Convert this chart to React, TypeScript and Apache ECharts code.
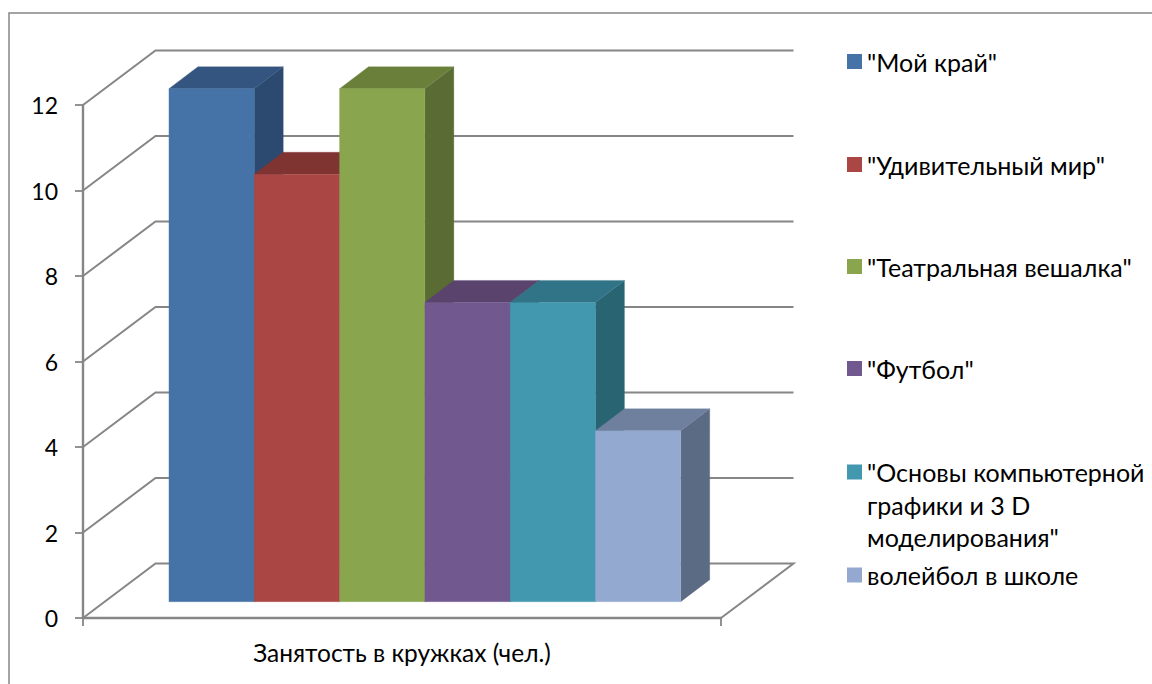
import React, { useEffect, useRef } from "react";
import * as echarts from "echarts";

const categories = ["Занятость в кружках (чел.)"];
const seriesNames = [
  '"Мой край"',
  '"Удивительный мир"',
  '"Театральная вешалка"',
  '"Футбол"',
  '"Основы компьютерной\nграфики и 3 D\nмоделирования"',
  "волейбол в школе",
];
const seriesValues = [12, 10, 12, 7, 7, 4];
const gridTicks = [0, 2, 4, 6, 8, 10, 12];
const frontColors = ["#4573A7", "#AA4644", "#89A54E", "#71588F", "#4198AF", "#94A9D0"];
const topColors = ["#34557F", "#803432", "#6A803A", "#5A446E", "#327487", "#6F7F9E"];
const sideColors = ["#2C4A6F", "#6E2C2B", "#5A6B34", "#4A3A5C", "#286472", "#5C6B84"];
const legendCentres = [61.5, 164.5, 266.5, 368.5, 472, 575];

const FONT = "Lato, 'Open Sans', sans-serif";
const WALL = "#868686";
const WALL_DX = 72.5;
const WALL_DY = 54.5;
const BAR_FRONT_DX = 21.5;
const BAR_FRONT_DY = 16.3;
const BAR_DX = 29;
const BAR_DY = 22;
const BAR_INSET = 0.101;
const BAR_WIDTH = 0.1337;

export default function App() {
  const ref = useRef<HTMLDivElement>(null);
  useEffect(() => {
    const chart = echarts.init(ref.current!, undefined, { renderer: "svg" });

    const wallSeries: any = {
      type: "custom",
      silent: true,
      clip: false,
      z: 1,
      encode: { y: 0 },
      data: gridTicks.map((t) => [t]),
      renderItem: (params: any, api: any) => {
        const cs = params.coordSys;
        const y = api.coord([0, api.value(0)])[1];
        const points: number[][] = [
          [cs.x, y],
          [cs.x + WALL_DX, y - WALL_DY],
          [cs.x + cs.width + WALL_DX, y - WALL_DY],
        ];
        if (api.value(0) === 0) points.push([cs.x + cs.width, y]);
        return {
          type: "polyline",
          shape: { points },
          style: { stroke: WALL, lineWidth: 2, fill: "none" },
        };
      },
    };

    const barSeries: any[] = seriesNames.map((name, i) => ({
      type: "custom",
      name,
      clip: false,
      z: 2 + i,
      itemStyle: { color: frontColors[i] },
      encode: { x: 0, y: 1 },
      data: [[0, seriesValues[i]]],
      renderItem: (_params: any, api: any) => {
        const band = api.size([1, 0])[0];
        const centre = api.coord([api.value(0), 0])[0];
        const base = api.coord([0, 0])[1] - BAR_FRONT_DY;
        const top = api.coord([0, api.value(1)])[1] - BAR_FRONT_DY;
        const x0 = centre - band / 2 + BAR_FRONT_DX + band * (BAR_INSET + i * BAR_WIDTH);
        const x1 = x0 + band * BAR_WIDTH;
        const poly = (points: number[][], fill: string) => ({
          type: "polygon",
          shape: { points },
          style: { fill, stroke: fill, lineWidth: 0.3 },
        });
        return {
          type: "group",
          children: [
            poly([[x1, base], [x1 + BAR_DX, base - BAR_DY], [x1 + BAR_DX, top - BAR_DY], [x1, top]], sideColors[i]),
            poly([[x0, top], [x1, top], [x1 + BAR_DX, top - BAR_DY], [x0 + BAR_DX, top - BAR_DY]], topColors[i]),
            poly([[x0, base], [x1, base], [x1, top], [x0, top]], frontColors[i]),
          ],
        };
      },
    }));

    const LINE = 32.5;
    const legends: any[] = seriesNames.map((name, i) => {
      const multi = name.includes("\n");
      return {
        data: [{ name, icon: "rect" }],
        left: 847,
        top: legendCentres[i] - (multi ? LINE * 2.5 : LINE / 2),
        padding: 0,
        itemWidth: 15,
        itemHeight: 15,
        selectedMode: false,
        formatter: (n: string) => (multi ? "\n\n" + n : n),
        textStyle: {
          fontFamily: FONT,
          fontSize: 25,
          color: "#000",
          lineHeight: LINE,
        },
      };
    });

    chart.setOption({
      animation: false,
      backgroundColor: "#fff",
      grid: { left: 83, right: 431, top: 105, bottom: 66 },
      xAxis: {
        type: "category",
        data: categories,
        axisLine: { lineStyle: { color: WALL, width: 2.4 } },
        axisTick: { show: true, length: 8, lineStyle: { color: WALL, width: 1.8 } },
        axisLabel: { fontFamily: FONT, fontSize: 24.5, color: "#000", margin: 22 },
      },
      yAxis: {
        type: "value",
        min: 0,
        max: 12,
        interval: 2,
        splitLine: { show: false },
        axisLine: { show: true, lineStyle: { color: WALL, width: 2.4 } },
        axisTick: { show: true, length: 8, lineStyle: { color: WALL, width: 1.8 } },
        axisLabel: { fontFamily: FONT, fontSize: 23, color: "#000", margin: 25 },
      },
      legend: legends,
      series: [wallSeries, ...barSeries],
      graphic: [
        {
          type: "rect",
          silent: true,
          z: 0,
          shape: { x: 9, y: 13, width: 1300, height: 800 },
          style: { fill: "none", stroke: WALL, lineWidth: 1.5 },
        },
      ],
    });
    return () => chart.dispose();
  }, []);
  return <div ref={ref} style={{ position: "fixed", left: 0, top: 0, width: 1152, height: 684 }} />;
}
